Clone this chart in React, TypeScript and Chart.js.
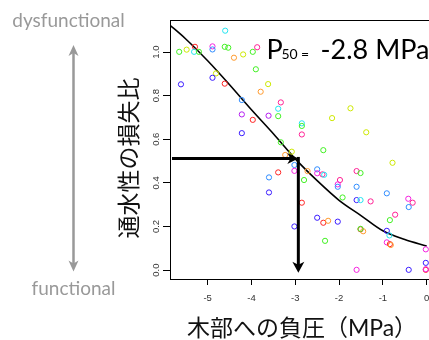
import React, { useEffect, useRef } from 'react';
import { Chart, registerables } from 'chart.js';

Chart.register(...registerables);

// Xylem pressure (MPa) of each measured sample
const pressure = [
  -4.60, -5.65, -5.48, -5.29, -5.31, -5.20, -4.89, -4.89, -4.61, -4.53,
  -3.87, -3.97, -4.19, -4.40, -3.90, -4.81, -4.89, -5.61, -4.61, -3.62,
  -3.79, -4.22, -3.33, -3.39, -4.22, -3.61, -3.39, -3.97, -4.22, -3.33,
  -1.74, -2.16, -2.85, -2.85, -2.85, -1.38, -3.08, -3.23, -3.02, -3.02,
  -3.39, -3.60, -3.60, -3.02, -2.36, -2.72, -2.50, -2.50, -2.38, -2.34,
  -2.80, -0.78, -1.98, -2.03, -2.03, -1.92, -1.60, -1.51, -1.60, -0.91,
  -1.60, -1.51, -1.28, -0.42, -0.32, -0.41, -2.85, -0.72, -0.84, -2.50,
  -2.36, -2.25, -2.03, -1.51, -1.45, -1.51, -0.91, -0.85, -0.91, -0.84,
  -0.82, -2.32, -0.02, -0.02, -1.60, -0.41, -0.02, -0.02,
];
// Loss of conductivity ratio of each sample
const lossRatio = [
  1.098, 1.001, 1.011, 1.024, 1.001, 1.001, 1.026, 1.012, 1.024, 1.020,
  1.022, 1.001, 0.989, 0.974, 0.921, 0.902, 0.882, 0.852, 0.855, 0.853,
  0.818, 0.780, 0.769, 0.740, 0.714, 0.708, 0.706, 0.689, 0.628, 0.586,
  0.742, 0.697, 0.673, 0.661, 0.622, 0.632, 0.543, 0.528, 0.482, 0.455,
  0.448, 0.425, 0.356, 0.200, 0.550, 0.454, 0.462, 0.444, 0.439, 0.437,
  0.413, 0.492, 0.413, 0.393, 0.382, 0.333, 0.454, 0.445, 0.382, 0.352,
  0.321, 0.321, 0.315, 0.327, 0.309, 0.289, 0.309, 0.254, 0.229, 0.240,
  0.217, 0.226, 0.222, 0.187, 0.178, 0.189, 0.180, 0.159, 0.127, 0.119,
  0.115, 0.134, 0.095, 0.033, 0.001, 0.001, 0.001, 0.004,
];
// Sample group of each point (0 red ... 10 pink)
const sampleGroup = [
  5, 3, 2, 0, 5, 3, 9, 6, 3, 3,
  10, 3, 2, 1, 3, 2, 7, 7, 0, 2,
  1, 6, 10, 5, 8, 8, 3, 0, 7, 3,
  2, 2, 5, 3, 10, 2, 2, 1, 6, 9,
  0, 6, 7, 7, 3, 1, 6, 9, 10, 5,
  3, 2, 10, 9, 6, 3, 10, 3, 6, 6,
  7, 5, 10, 9, 10, 6, 0, 10, 3, 7,
  0, 1, 7, 0, 1, 3, 7, 5, 9, 0,
  1, 3, 9, 7, 9, 7, 0, 9,
];

// Fitted vulnerability curve
const curvePressure = [-5.9, -5.5, -5.0, -4.5, -4.0, -3.5, -3.0, -2.5, -2.0, -1.5, -1.0, -0.5, 0.0];
const curveLoss = [1.13, 1.06, 0.96, 0.85, 0.735, 0.625, 0.51, 0.41, 0.32, 0.25, 0.18, 0.14, 0.11];

// P50 marker
const p50Pressure = -2.93;
const p50Loss = 0.512;
const p50ArrowEndLoss = -0.012;
const p50Text = '-2.8 MPa';

// Axes
const xRange = [-5.86, 0.053];
const yRange = [-0.041, 1.147];
const xTicks = [-5, -4, -3, -2, -1, 0];
const xTickLabels = ['-5', '-4', '-3', '-2', '-1', '0'];
const yTicks = [0, 0.2, 0.4, 0.6, 0.8, 1.0];
const yTickLabels = ['0.0', '0.2', '0.4', '0.6', '0.8', '1.0'];
const xTitle = '木部への負圧（MPa）';
const yTitle = '通水性の損失比';
const topNote = 'dysfunctional';
const bottomNote = 'functional';

const palette = [
  '#ff2424', '#ff9a2e', '#cde800', '#42f023', '#22f08a', '#22e4f0',
  '#2f8cff', '#3a1cff', '#b41cf0', '#f520e0', '#ff2094',
];

function arrowHead(ctx: CanvasRenderingContext2D, tx: number, ty: number, dx: number, dy: number, len: number, half: number) {
  const px = -dy, py = dx;
  const bx = tx - dx * len, by = ty - dy * len;
  const nx = tx - dx * len * 0.72, ny = ty - dy * len * 0.72;
  ctx.beginPath();
  ctx.moveTo(tx, ty);
  ctx.lineTo(bx + px * half, by + py * half);
  ctx.lineTo(nx, ny);
  ctx.lineTo(bx - px * half, by - py * half);
  ctx.closePath();
  ctx.fill();
}

const decorPlugin = {
  id: 'decor',
  afterDatasetsDraw(chart: any) {
    const { ctx, chartArea: ca, scales } = chart;
    const x = scales.x, y = scales.y;
    ctx.save();
    ctx.strokeStyle = '#000';
    ctx.lineWidth = 1;
    ctx.beginPath();
    ctx.moveTo(ca.left, Math.round(ca.top) + 0.5);
    ctx.lineTo(ca.right, Math.round(ca.top) + 0.5);
    ctx.stroke();

    const ax = x.getPixelForValue(p50Pressure);
    const ay = y.getPixelForValue(p50Loss);
    const ey = y.getPixelForValue(p50ArrowEndLoss);
    ctx.fillStyle = '#000';
    ctx.lineWidth = 3;
    ctx.lineCap = 'butt';
    ctx.beginPath();
    ctx.moveTo(ca.left + 2, ay);
    ctx.lineTo(ax - 7, ay);
    ctx.stroke();
    arrowHead(ctx, ax, ay, 1, 0, 11, 5.5);
    ctx.beginPath();
    ctx.moveTo(ax, ay - 1.5);
    ctx.lineTo(ax, ey - 7);
    ctx.stroke();
    arrowHead(ctx, ax, ey, 0, 1, 11, 6);
    ctx.restore();
  },
  afterDraw(chart: any) {
    const { ctx, scales } = chart;
    const x = scales.x, y = scales.y;
    ctx.save();
    ctx.fillStyle = '#333';
    ctx.font = '9.5px "Liberation Sans", Arial, sans-serif';
    ctx.textAlign = 'center';
    ctx.textBaseline = 'middle';
    xTicks.forEach((v, i) => {
      ctx.fillText(xTickLabels[i], x.getPixelForValue(v), 298.5);
    });
    yTicks.forEach((v, i) => {
      ctx.save();
      ctx.translate(156.5, y.getPixelForValue(v));
      ctx.rotate(-Math.PI / 2);
      ctx.fillText(yTickLabels[i], 0, 0);
      ctx.restore();
    });

    ctx.fillStyle = '#111';
    ctx.font = '23px Lato, "Noto Sans CJK JP", sans-serif';
    ctx.fillText(xTitle, 302, 329);
    ctx.save();
    ctx.translate(128, 158);
    ctx.rotate(-Math.PI / 2);
    ctx.font = '23px "Noto Sans CJK JP", sans-serif';
    ctx.fillText(yTitle, 0, 0);
    ctx.restore();

    ctx.textAlign = 'left';
    ctx.textBaseline = 'alphabetic';
    ctx.fillStyle = '#000';
    ctx.font = '27px Lato, sans-serif';
    ctx.fillText('P', 266.5, 58.5);
    ctx.font = '14px Lato, sans-serif';
    ctx.fillText('50', 281.5, 58.5);
    ctx.fillText('=', 301, 58.5);
    ctx.font = '27px Lato, sans-serif';
    ctx.fillText(p50Text, 320.5, 58.5);

    ctx.fillStyle = '#999';
    ctx.strokeStyle = '#999';
    ctx.font = '19px Lato, sans-serif';
    ctx.textAlign = 'center';
    ctx.fillText(topNote, 68.5, 26.5);
    ctx.fillText(bottomNote, 73.5, 294.5);
    ctx.lineWidth = 2.5;
    ctx.beginPath();
    ctx.moveTo(73.5, 53);
    ctx.lineTo(73.5, 264);
    ctx.stroke();
    arrowHead(ctx, 73.5, 45, 0, -1, 11, 5);
    arrowHead(ctx, 73.5, 271.5, 0, 1, 11, 5);
    ctx.restore();
  },
};

export default function App() {
  const ref = useRef<HTMLCanvasElement | null>(null);
  useEffect(() => {
    if (!ref.current) return;
    const points = pressure.map((p, i) => ({ x: p, y: lossRatio[i] }));
    const curve = curvePressure.map((p, i) => ({ x: p, y: curveLoss[i] }));
    const chart = new Chart(ref.current, {
      type: 'scatter',
      data: {
        datasets: [
          {
            type: 'scatter',
            data: points,
            pointRadius: 2.6,
            pointBorderWidth: 1,
            pointBackgroundColor: 'rgba(0,0,0,0)',
            pointBorderColor: sampleGroup.map((g) => palette[g]),
            borderColor: sampleGroup.map((g) => palette[g]),
            backgroundColor: 'rgba(0,0,0,0)',
          } as any,
          {
            type: 'line',
            data: curve,
            borderColor: '#000',
            borderWidth: 1.6,
            pointRadius: 0,
            fill: false,
            cubicInterpolationMode: 'monotone',
            showLine: true,
          } as any,
        ],
      },
      options: {
        animation: false,
        responsive: false,
        maintainAspectRatio: false,
        layout: { autoPadding: false, padding: { top: 20, left: 0, right: 0, bottom: 0 } },
        plugins: { legend: { display: false }, tooltip: { enabled: false } },
        scales: {
          x: {
            type: 'linear',
            min: xRange[0],
            max: xRange[1],
            afterFit: (s: any) => { s.height = 61; },
            afterBuildTicks: (s: any) => { s.ticks = xTicks.map((v) => ({ value: v })); },
            ticks: { display: false, includeBounds: false },
            grid: { display: true, drawOnChartArea: false, drawTicks: true, tickLength: 6, color: '#000', tickColor: '#000', lineWidth: 1 },
            border: { display: true, color: '#000', width: 1 },
          },
          y: {
            type: 'linear',
            min: yRange[0],
            max: yRange[1],
            afterFit: (s: any) => { s.width = 170; },
            afterBuildTicks: (s: any) => { s.ticks = yTicks.map((v) => ({ value: v })); },
            ticks: { display: false, includeBounds: false },
            grid: { display: true, drawOnChartArea: false, drawTicks: true, tickLength: 7, color: '#000', tickColor: '#000', lineWidth: 1 },
            border: { display: true, color: '#000', width: 1 },
          },
        },
      } as any,
      plugins: [decorPlugin],
    });
    return () => chart.destroy();
  }, []);
  return (
    <div style={{ position: 'absolute', left: 0, top: 0, width: 429, height: 340, background: '#fff' }}>
      <canvas ref={ref} width={429} height={340} style={{ display: 'block' }} />
    </div>
  );
}
